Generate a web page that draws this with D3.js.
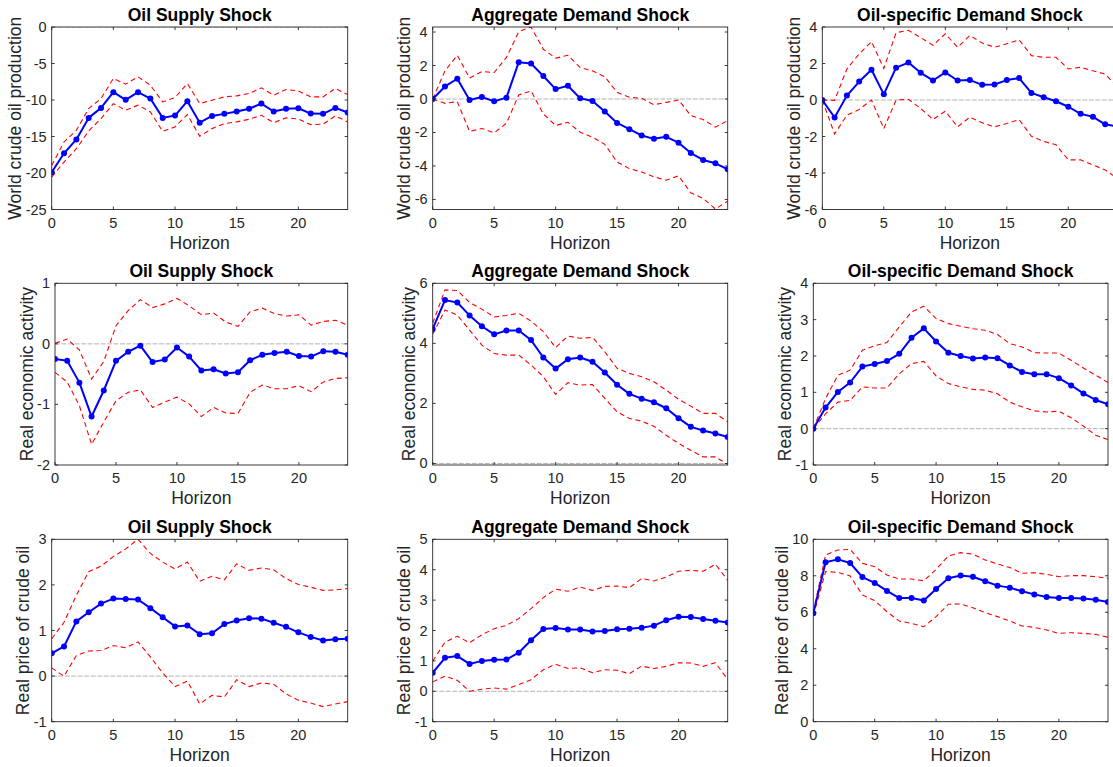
<!DOCTYPE html>
<html>
<head>
<meta charset="utf-8">
<script src="https://cdn.jsdelivr.net/npm/d3@7"></script>
<style>
  html, body { margin: 0; padding: 0; background: #fff; }
  svg { display: block; }
  text { font-family: "Liberation Sans", Arial, Helvetica, sans-serif; }
</style>
</head>
<body>
<svg id="chart" width="1113" height="767"></svg>
<script>
// ---------------- DATA ----------------
const horizon = [0,1,2,3,4,5,6,7,8,9,10,11,12,13,14,15,16,17,18,19,20,21,22,23,24];
const xTicks = [0,5,10,15,20];
const shockTitles = ["Oil Supply Shock", "Aggregate Demand Shock", "Oil-specific Demand Shock"];
const variableLabels = ["World crude oil production", "Real economic activity", "Real price of crude oil"];

// World crude oil production
const prodSupply   = [-19.9,-17.3,-15.4,-12.45,-11.08,-8.93,-9.98,-8.93,-9.8,-12.45,-12.13,-10.16,-13.1,-12.18,-11.9,-11.58,-11.2,-10.49,-11.58,-11.2,-11.13,-11.86,-11.9,-11.08,-11.72];
const prodSupplyHi = [-18.96,-15.75,-14.15,-11.17,-9.8,-7.05,-7.83,-6.82,-7.97,-10.26,-9.66,-7.74,-10.49,-10.03,-9.57,-9.43,-9.11,-8.33,-9.34,-8.56,-8.75,-9.57,-9.57,-8.42,-9.25];
const prodSupplyLo = [-20.56,-18.5,-16.67,-14.24,-12.55,-10.49,-11.4,-10.71,-11.63,-14.29,-13.69,-12.0,-14.97,-13.92,-13.23,-13.0,-12.64,-12.09,-13.1,-12.45,-12.59,-13.37,-13.32,-12.18,-13.0];

const prodAggDem   = [0,0.75,1.21,-0.06,0.12,-0.14,0.08,2.2,2.12,1.37,0.59,0.79,0.04,-0.12,-0.75,-1.43,-1.8,-2.18,-2.38,-2.26,-2.61,-3.23,-3.64,-3.84,-4.2];
const prodAggDemHi = [0,1.68,2.61,1.25,1.64,1.58,2.48,4.02,4.3,2.97,2.44,2.61,1.88,1.68,1.33,0.4,0.1,0.04,-0.34,-0.2,-0.06,-0.99,-1.23,-1.68,-1.29];
const prodAggDemLo = [0,-0.26,-0.16,-1.94,-1.76,-2.02,-1.45,0.24,0.48,-0.89,-1.58,-1.39,-1.98,-2.28,-2.71,-3.76,-4.16,-4.36,-4.65,-4.85,-4.59,-5.6,-5.94,-6.57,-6.1];

const prodOilDem   = [0,-0.96,0.24,1.01,1.66,0.31,1.77,2.05,1.49,1.07,1.51,1.07,1.09,0.83,0.85,1.09,1.2,0.39,0.15,-0.07,-0.37,-0.76,-0.92,-1.33,-1.45];
const prodOilDemHi = [0,-0.02,1.7,2.53,3.2,1.73,3.69,3.82,3.42,3.0,3.63,2.89,3.54,3.12,2.89,3.08,3.3,2.43,2.34,2.34,1.7,1.79,1.6,1.42,0.7];
const prodOilDemLo = [0,-1.86,-0.83,-0.52,0,-1.57,0,0.04,-0.46,-1.07,-0.61,-1.47,-0.94,-1.25,-1.47,-1.29,-1.07,-1.99,-2.27,-2.45,-3.28,-3.28,-3.56,-3.83,-4.3];

// Real economic activity
const reaSupply   = [-0.25,-0.28,-0.64,-1.2,-0.77,-0.28,-0.13,-0.03,-0.3,-0.26,-0.06,-0.21,-0.44,-0.42,-0.49,-0.47,-0.27,-0.18,-0.15,-0.13,-0.2,-0.21,-0.12,-0.13,-0.18];
const reaSupplyHi = [0.01,0.08,-0.1,-0.58,-0.29,0.3,0.55,0.73,0.6,0.66,0.75,0.63,0.48,0.51,0.36,0.29,0.53,0.59,0.5,0.46,0.48,0.31,0.37,0.39,0.31];
const reaSupplyLo = [-0.47,-0.63,-1.02,-1.66,-1.29,-0.94,-0.8,-0.76,-1.05,-0.96,-0.88,-0.99,-1.2,-1.05,-1.14,-1.15,-0.8,-0.68,-0.74,-0.74,-0.69,-0.79,-0.63,-0.57,-0.56];

const reaAggDem   = [4.48,5.44,5.36,4.93,4.57,4.3,4.43,4.43,4.11,3.53,3.16,3.47,3.53,3.39,3.03,2.62,2.32,2.16,2.04,1.84,1.51,1.22,1.1,1.0,0.88];
const reaAggDemHi = [4.67,5.78,5.76,5.36,5.14,4.88,4.93,5.0,4.74,4.39,3.86,4.24,4.17,4.2,3.72,3.17,3.0,2.89,2.72,2.44,2.14,1.91,1.67,1.67,1.39];
const reaAggDemLo = [4.3,5.11,4.94,4.44,3.94,3.66,3.61,3.61,3.28,2.89,2.3,2.69,2.61,2.63,2.17,1.72,1.5,1.41,1.24,0.94,0.67,0.44,0.22,0.22,-0.03];

const reaOilDem   = [0,0.58,1.01,1.27,1.71,1.78,1.86,2.06,2.5,2.76,2.4,2.09,2.0,1.93,1.96,1.94,1.74,1.56,1.5,1.5,1.39,1.19,0.97,0.79,0.67];
const reaOilDemHi = [0,0.83,1.47,1.61,2.16,2.28,2.37,2.8,3.21,3.37,3.03,2.89,2.82,2.75,2.71,2.59,2.34,2.25,2.09,2.08,2.08,1.88,1.67,1.47,1.27];
const reaOilDemLo = [0,0.41,0.73,0.78,1.15,1.12,1.12,1.51,1.79,1.85,1.45,1.24,1.15,1.08,1.06,0.96,0.73,0.6,0.49,0.46,0.48,0.3,0.07,-0.18,-0.3];

// Real price of crude oil
const priceSupply   = [0.5,0.65,1.2,1.4,1.59,1.7,1.69,1.68,1.49,1.29,1.09,1.11,0.92,0.94,1.14,1.22,1.27,1.26,1.17,1.08,0.96,0.86,0.78,0.81,0.82];
const priceSupplyHi = [0.82,1.18,1.77,2.29,2.41,2.62,2.79,3.0,2.69,2.5,2.35,2.5,2.08,2.19,2.11,2.46,2.32,2.37,2.33,2.14,2.01,1.95,1.88,1.89,1.92];
const priceSupplyLo = [0.18,0.0,0.45,0.55,0.56,0.67,0.62,0.75,0.42,0.07,-0.23,-0.11,-0.61,-0.42,-0.46,-0.08,-0.23,-0.15,-0.18,-0.39,-0.53,-0.59,-0.67,-0.61,-0.56];

const priceAggDem   = [0.61,1.1,1.16,0.9,1.0,1.04,1.05,1.27,1.68,2.05,2.08,2.03,2.03,1.97,1.98,2.04,2.06,2.09,2.16,2.34,2.45,2.44,2.38,2.32,2.26];
const priceAggDemHi = [0.99,1.62,1.81,1.6,1.86,2.06,2.17,2.39,2.72,3.08,3.36,3.29,3.43,3.32,3.45,3.46,3.41,3.71,3.63,3.76,3.95,3.98,3.95,4.18,3.65];
const priceAggDemLo = [0.31,0.5,0.36,0.0,0.07,0.11,0.07,0.22,0.38,0.71,0.89,0.75,0.77,0.61,0.71,0.69,0.58,0.83,0.75,0.82,0.94,0.93,0.82,0.94,0.39];

const priceOilDem   = [5.94,8.74,8.9,8.7,7.93,7.61,7.17,6.78,6.78,6.65,7.28,7.86,8.01,7.95,7.7,7.46,7.35,7.15,6.98,6.84,6.78,6.78,6.75,6.69,6.56];
const priceOilDemHi = [6.03,9.14,9.41,9.45,8.68,8.5,8.04,7.82,7.82,7.73,8.35,9.09,9.27,9.18,8.87,8.65,8.45,8.14,8.17,8.08,7.95,8.01,8.01,7.95,7.86];
const priceOilDemLo = [5.8,8.23,8.19,7.99,6.95,6.64,6.03,5.52,5.39,5.21,5.76,6.44,6.45,6.25,5.98,5.76,5.52,5.25,5.17,5.03,4.84,4.88,4.84,4.79,4.63];

// axis limits and tick labels
const yLimits = [
  [[-25, 0], [-6.6, 4.3], [-6, 4]],
  [[-2, 1], [-0.05, 6], [-1, 4]],
  [[-1, 3], [-1, 5], [0, 10]]
];
const yTickValues = [
  [[-25,-20,-15,-10,-5,0], [-6,-4,-2,0,2,4], [-6,-4,-2,0,2,4]],
  [[-2,-1,0,1], [0,2,4,6], [-1,0,1,2,3,4]],
  [[-1,0,1,2,3], [-1,0,1,2,3,4,5], [0,2,4,6,8,10]]
];

const seriesGrid = [
  [[prodSupply, prodSupplyHi, prodSupplyLo], [prodAggDem, prodAggDemHi, prodAggDemLo], [prodOilDem, prodOilDemHi, prodOilDemLo]],
  [[reaSupply, reaSupplyHi, reaSupplyLo], [reaAggDem, reaAggDemHi, reaAggDemLo], [reaOilDem, reaOilDemHi, reaOilDemLo]],
  [[priceSupply, priceSupplyHi, priceSupplyLo], [priceAggDem, priceAggDemHi, priceAggDemLo], [priceOilDem, priceOilDemHi, priceOilDemLo]]
];

// ---------------- LAYOUT ----------------
const rowBox = [[27, 209.5], [283.3, 465], [539.3, 721.7]];
const colBox = [
  [[51.7, 347.7], [432.7, 727.7], [822.3, 1117.5]],
  [[55, 347.7], [432.7, 727.7], [813.3, 1108]],
  [[51.7, 347.7], [432.7, 727.7], [813.3, 1108]]
];

const axisColor = "#262626";
const tickFont = 14.5;
const labelFont = 17.5;
const titleFont = 17.5;
const tickLen = 3;

const svg = d3.select("#chart");
const defs = svg.append("defs");

for (let r = 0; r < 3; r++) {
  for (let c = 0; c < 3; c++) {
    const [x0, x1] = colBox[r][c];
    const [yt, yb] = rowBox[r];
    const x = d3.scaleLinear().domain([0, 24]).range([x0, x1]);
    const y = d3.scaleLinear().domain(yLimits[r][c]).range([yb, yt]);
    const g = svg.append("g");
    const clipId = `clip-${r}-${c}`;
    defs.append("clipPath").attr("id", clipId)
      .append("rect").attr("x", x0).attr("y", yt).attr("width", x1 - x0).attr("height", yb - yt);

    const plot = g.append("g").attr("clip-path", `url(#${clipId})`);

    // zero reference line
    plot.append("line")
      .attr("x1", x(0)).attr("x2", x(24))
      .attr("y1", y(0)).attr("y2", y(0))
      .attr("stroke", "#b4b4b4").attr("stroke-width", 1)
      .attr("stroke-dasharray", "5,1.5");

    const [irf, hi, lo] = seriesGrid[r][c];
    const line = d3.line().x((d, i) => x(horizon[i])).y(d => y(d));

    [hi, lo].forEach(band => {
      plot.append("path").attr("d", line(band))
        .attr("fill", "none").attr("stroke", "#ff0000")
        .attr("stroke-width", 1.1).attr("stroke-dasharray", "5,3.5");
    });

    plot.append("path").attr("d", line(irf))
      .attr("fill", "none").attr("stroke", "#0000ff")
      .attr("stroke-width", 2).attr("stroke-linejoin", "round");
    plot.selectAll("circle.pt").data(irf).enter().append("circle")
      .attr("class", "pt")
      .attr("cx", (d, i) => x(horizon[i])).attr("cy", d => y(d))
      .attr("r", 3).attr("fill", "#0000ff");

    // axes box
    g.append("rect").attr("x", x0).attr("y", yt)
      .attr("width", x1 - x0).attr("height", yb - yt)
      .attr("fill", "none").attr("stroke", axisColor).attr("stroke-width", 0.9);

    // x ticks (bottom and top, inward)
    xTicks.forEach(t => {
      const px = x(t);
      g.append("line").attr("x1", px).attr("x2", px).attr("y1", yb).attr("y2", yb - tickLen)
        .attr("stroke", axisColor).attr("stroke-width", 0.9);
      g.append("line").attr("x1", px).attr("x2", px).attr("y1", yt).attr("y2", yt + tickLen)
        .attr("stroke", axisColor).attr("stroke-width", 0.9);
      g.append("text").attr("x", px).attr("y", yb + 18.2)
        .attr("text-anchor", "middle").attr("font-size", tickFont)
        .attr("fill", axisColor).text(d3.format("d")(t));
    });

    // y ticks (left and right, inward)
    let minLeft = x0;
    yTickValues[r][c].forEach(t => {
      const py = y(t);
      g.append("line").attr("x1", x0).attr("x2", x0 + tickLen).attr("y1", py).attr("y2", py)
        .attr("stroke", axisColor).attr("stroke-width", 0.9);
      g.append("line").attr("x1", x1).attr("x2", x1 - tickLen).attr("y1", py).attr("y2", py)
        .attr("stroke", axisColor).attr("stroke-width", 0.9);
      const tx = g.append("text").attr("x", x0 - 5).attr("y", py)
        .attr("text-anchor", "end").attr("dominant-baseline", "central")
        .attr("font-size", tickFont).attr("fill", axisColor).text(t);
      const bb = tx.node().getBBox();
      minLeft = Math.min(minLeft, bb.x);
    });

    // title
    g.append("text").attr("x", (x0 + x1) / 2).attr("y", yt - 6.5)
      .attr("text-anchor", "middle").attr("font-size", titleFont)
      .attr("font-weight", "bold").attr("fill", "#000").text(shockTitles[c]);

    // x label
    g.append("text").attr("x", (x0 + x1) / 2).attr("y", yb + 39.3)
      .attr("text-anchor", "middle").attr("font-size", labelFont)
      .attr("fill", axisColor).text("Horizon");

    // y label
    const lx = minLeft - 4.5;
    const ly = (yt + yb) / 2;
    g.append("text").attr("transform", `translate(${lx},${ly}) rotate(-90)`)
      .attr("text-anchor", "middle").attr("font-size", labelFont)
      .attr("fill", axisColor).text(variableLabels[r]);
  }
}
</script>
</body>
</html>
